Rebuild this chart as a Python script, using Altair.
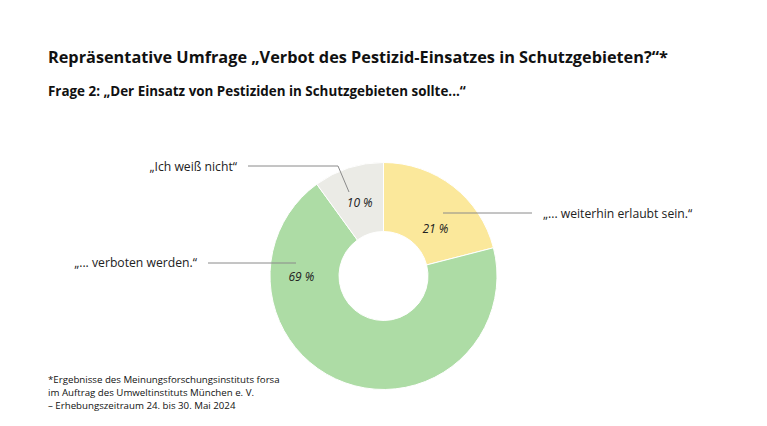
import altair as alt
import pandas as pd

# ---- data ----
categories = ["„... weiterhin erlaubt sein.“", "„... verboten werden.“", "„Ich weiß nicht“"]
values = [21, 69, 10]
colors = ["#fbe89b", "#addca5", "#ebebe6"]

title = "Repräsentative Umfrage „Verbot des Pestizid-Einsatzes in Schutzgebieten?“*"
subtitle = "Frage 2: „Der Einsatz von Pestiziden in Schutzgebieten sollte...“"
footnote = [
    "*Ergebnisse des Meinungsforschungsinstituts forsa",
    "im Auftrag des Umweltinstituts München e. V.",
    "– Erhebungszeitraum 24. bis 30. Mai 2024",
]

FONT = "Open Sans"
OFF = 8  # page margin
CX, CY = 383.5 - OFF, 276 - OFF

df = pd.DataFrame({"cat": categories, "value": values, "idx": list(range(len(values)))})
base = alt.Chart(df)

color = alt.Color("cat:N", scale=alt.Scale(domain=categories, range=colors), legend=None)

arc = base.mark_arc(innerRadius=44.5, outerRadius=113.5, stroke="white", strokeWidth=1).encode(
    theta=alt.Theta("value:Q", stack=True),
    order=alt.Order("idx:O"),
    color=color,
    x=alt.value(CX),
    y=alt.value(CY),
)

def pct_layer(i, radius, dx, dy):
    return base.transform_calculate(label="datum.value + ' %'").mark_text(
        radius=radius, dx=dx, dy=dy, font=FONT, fontSize=12, fontStyle="italic", color="#222"
    ).encode(
        theta=alt.Theta("value:Q", stack=True),
        order=alt.Order("idx:O"),
        text=alt.Text("label:N"),
        x=alt.value(CX),
        y=alt.value(CY),
        opacity=alt.condition(alt.datum.idx == i, alt.value(1), alt.value(0)),
    )

pcts = [
    pct_layer(0, 70, 9, 8),
    pct_layer(1, 80, -55, -74),
    pct_layer(2, 77, 0, 0),
]

def rule(x1, y1, x2, y2):
    return alt.Chart(pd.DataFrame({"a": [0]})).mark_rule(color="#8a8a8a", strokeWidth=1).encode(
        x=alt.value(x1 - OFF), y=alt.value(y1 - OFF), x2=alt.value(x2 - OFF), y2=alt.value(y2 - OFF)
    )

rules = [
    rule(248, 166, 338, 166),
    rule(338, 166, 349, 192),
    rule(208, 263, 296, 263),
    rule(443, 213, 532, 213),
]

def cat_label(i, x, y, align):
    return alt.Chart(df[df.idx == i]).mark_text(
        align=align, baseline="middle", font=FONT, fontSize=12.2, color="#222"
    ).encode(text="cat:N", x=alt.value(x - OFF), y=alt.value(y - OFF))

cats = [
    cat_label(0, 543, 214, "left"),
    cat_label(1, 197, 263, "right"),
    cat_label(2, 237, 167, "right"),
]

def static_text(txt, x, y, size, weight="normal"):
    return alt.Chart(pd.DataFrame({"t": [txt]})).mark_text(
        align="left", baseline="middle", font=FONT, fontSize=size, fontWeight=weight, color="#111"
    ).encode(text="t:N", x=alt.value(x - OFF), y=alt.value(y - OFF))

texts = [
    static_text(title, 48, 58, 16.3, "bold"),
    static_text(subtitle, 48, 92, 13.4, "bold"),
]
for k, line in enumerate(footnote):
    texts.append(static_text(line, 48, 380 + 13 * k, 9.7))

chart = alt.layer(arc, *pcts, *rules, *cats, *texts).properties(
    width=751, height=410, autosize=alt.AutoSizeParams(type="none"), padding=0
).configure(background="white", view=alt.ViewConfig(stroke=None))

chart.save("out.html", embed_options={"renderer": "svg", "actions": False})
